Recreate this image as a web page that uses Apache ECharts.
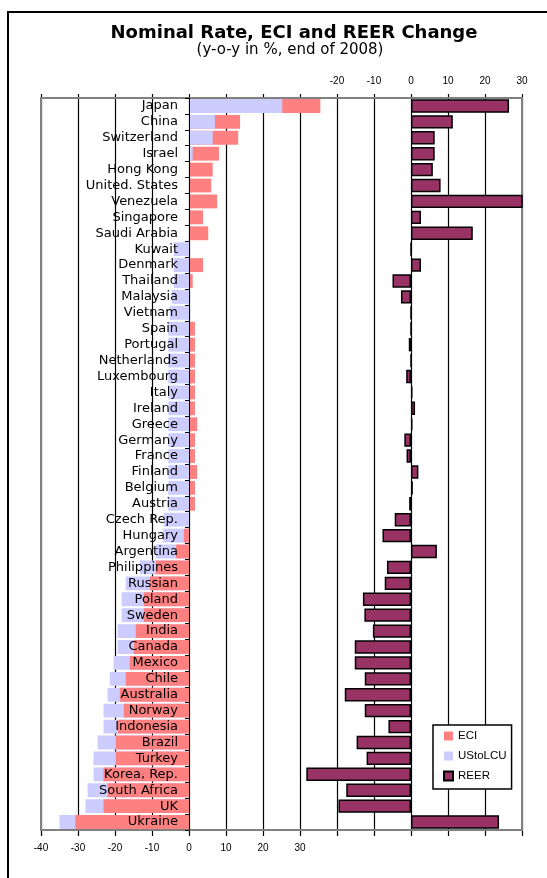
<!DOCTYPE html>
<html>
<head>
<meta charset="utf-8">
<script src="https://cdn.jsdelivr.net/npm/echarts@6/dist/echarts.min.js"></script>
<style>
html,body{margin:0;padding:0;background:#fff;overflow:hidden;}
#chart{width:547px;height:878px;}
</style>
</head>
<body>
<div id="chart"></div>
<script>
const categories = ['Japan','China','Switzerland','Israel','Hong Kong','United. States','Venezuela','Singapore','Saudi Arabia','Kuwait','Denmark','Thailand','Malaysia','Vietnam','Spain','Portugal','Netherlands','Luxembourg','Italy','Ireland','Greece','Germany','France','Finland','Belgium','Austria','Czech Rep.','Hungary','Argentina','Philippines','Russian','Poland','Sweden','India','Canada','Mexico','Chile','Australia','Norway','Indonesia','Brazil','Turkey','Korea, Rep.','South Africa','UK','Ukraine'];

const eci = [35.5,13.8,13.3,8.1,6.4,6.0,7.6,3.8,5.2,0,3.8,1.0,0,0,1.6,1.6,1.6,1.6,1.6,1.6,2.2,1.6,1.6,2.2,1.6,1.6,0,-1.4,-3.5,-9.0,-10.6,-12.2,-12.2,-14.4,-14.9,-16.0,-17.1,-18.7,-17.6,-19.3,-19.8,-19.8,-23.1,-22.0,-23.1,-30.7];

const usToLcu = [25.2,7.0,6.4,1.0,0,0,0,0,0,-4.1,-4.1,-4.1,-4.6,-5.2,-5.6,-5.6,-5.6,-5.6,-5.6,-5.6,-5.6,-5.6,-5.6,-5.6,-5.6,-5.6,-6.8,-7.0,-9.0,-13.3,-17.1,-18.2,-18.2,-19.3,-19.3,-20.4,-21.4,-22.0,-23.1,-23.1,-24.7,-25.8,-25.8,-27.4,-28.0,-35.0];

const reer = [26.5,11.3,6.4,6.4,5.9,8.0,31,2.7,16.7,0,2.7,-5.0,-2.7,0,0,-0.6,0,-1.3,0.4,1.1,0.4,-1.8,-1.2,2.0,0.5,-0.5,-4.4,-7.7,7.0,-6.5,-7.1,-13.0,-12.6,-10.3,-15.2,-15.2,-12.5,-17.9,-12.5,-6.1,-14.7,-12.0,-28.3,-17.5,-19.6,23.8];

const bottomTickLabels = [-40,-30,-20,-10,0,10,20,30];
const topTickLabels = [-20,-10,0,10,20,30];

const ECI_COLOR = '#FF8080';
const USD_COLOR = '#CCCCFF';
const REER_COLOR = '#993366';

// layout
const W = 547, H = 878;
const G = {left:41, right:25, top:98, bottom:48};
const bottomMin = -40, bottomMax = 90;
const topMin = -100, topMax = 30;
const plotW = W - G.left - G.right;
// shift the category axis so it sits on the zero of the bottom value axis
const zeroOffset = plotW * (0 - bottomMin) / (bottomMax - bottomMin);

// the bar with the larger magnitude is drawn behind, the smaller one in front
const eciBack = eci.map((v,i)=> Math.abs(v) >= Math.abs(usToLcu[i]) ? v : '-');
const eciFront = eci.map((v,i)=> Math.abs(v) < Math.abs(usToLcu[i]) ? v : '-');
const usdBack = usToLcu.map((v,i)=> Math.abs(v) > Math.abs(eci[i]) ? v : '-');
const usdFront = usToLcu.map((v,i)=> Math.abs(v) <= Math.abs(eci[i]) ? v : '-');

const chart = echarts.init(document.getElementById('chart'), null, {renderer:'canvas'});

const leftBar = (name, data, color, z) => ({
  name, type:'bar', data, xAxisIndex:0, yAxisIndex:0,
  barGap:'-100%', barCategoryGap:'13%', z,
  itemStyle:{color}, emphasis:{disabled:true}
});

chart.setOption({
  animation:false,
  backgroundColor:'#fff',
  title:[
    {text:'Nominal Rate, ECI and REER Change', left:294, top:24, textAlign:'center', padding:0,
     textStyle:{fontFamily:'DejaVu Sans', fontWeight:'bold', fontSize:18, color:'#000'}},
    {text:'(y-o-y in %, end of 2008)', left:290, top:42.5, textAlign:'center', padding:0,
     textStyle:{fontFamily:'DejaVu Sans', fontWeight:'normal', fontSize:15, color:'#000'}}
  ],
  graphic:[
    {type:'polyline', z:-10, silent:true,
     shape:{points:[[8, H + 20],[8, 12],[W + 20, 12]]},
     style:{fill:null, stroke:'#000', lineWidth:2}},
    {type:'rect', z:1, silent:true,
     shape:{x:G.left, y:G.top, width:plotW, height:H - G.top - G.bottom},
     style:{fill:null, stroke:'#808080', lineWidth:2}}
  ],
  legend:{
    data:['ECI','UStoLCU','REER'],
    orient:'vertical', left:433, top:725,
    itemWidth:9, itemHeight:9, itemGap:8,
    padding:[5,5,7,10],
    backgroundColor:'#fff', borderColor:'#000', borderWidth:1.5,
    textStyle:{fontFamily:'Liberation Sans', fontSize:11.5, color:'#000'},
    icon:'rect'
  },
  grid:{left:G.left, right:G.right, top:G.top, bottom:G.bottom, containLabel:false, outerBoundsMode:'none'},
  xAxis:[
    {type:'value', position:'bottom', min:bottomMin, max:bottomMax, interval:10,
     axisLine:{show:true, onZero:false, lineStyle:{color:'#000', width:1.5}},
     axisTick:{show:true, length:6, lineStyle:{color:'#000', width:1.2}},
     axisLabel:{margin:13, fontFamily:'Liberation Sans', fontSize:10, color:'#000',
       formatter:(v)=> bottomTickLabels.includes(v) ? String(v) : ''},
     splitLine:{show:true, lineStyle:{color:'#000', width:1.2}}},
    {type:'value', position:'top', min:topMin, max:topMax, interval:10,
     axisLine:{show:true, onZero:false, lineStyle:{color:'#000', width:1.5}},
     axisTick:{show:true, length:4, lineStyle:{color:'#000', width:1.2}},
     axisLabel:{margin:12, fontFamily:'Liberation Sans', fontSize:10, color:'#000',
       formatter:(v)=> topTickLabels.includes(v) ? String(v) : ''},
     splitLine:{show:false}}
  ],
  yAxis:[
    {type:'category', data:categories, inverse:true, z:5, position:'left', offset:-zeroOffset,
     axisLine:{show:true, onZero:false, lineStyle:{color:'#000', width:1}},
     axisTick:{show:true, length:4, inside:false, lineStyle:{color:'#000', width:1}},
     axisLabel:{interval:0, margin:11, fontFamily:'DejaVu Sans', fontSize:13, color:'#000'},
     splitLine:{show:false}},
    {type:'category', data:categories, inverse:true, show:false}
  ],
  series:[
    leftBar('ECI', eciBack, ECI_COLOR, 2),
    leftBar('UStoLCU', usdBack, USD_COLOR, 2),
    leftBar('ECI', eciFront, ECI_COLOR, 3),
    leftBar('UStoLCU', usdFront, USD_COLOR, 3),
    {name:'REER', type:'bar', data:reer, xAxisIndex:1, yAxisIndex:1,
     barCategoryGap:'16%', clip:true, z:3,
     itemStyle:{color:REER_COLOR, borderColor:'#000', borderWidth:1.5},
     emphasis:{disabled:true}}
  ]
});
</script>
</body>
</html>
